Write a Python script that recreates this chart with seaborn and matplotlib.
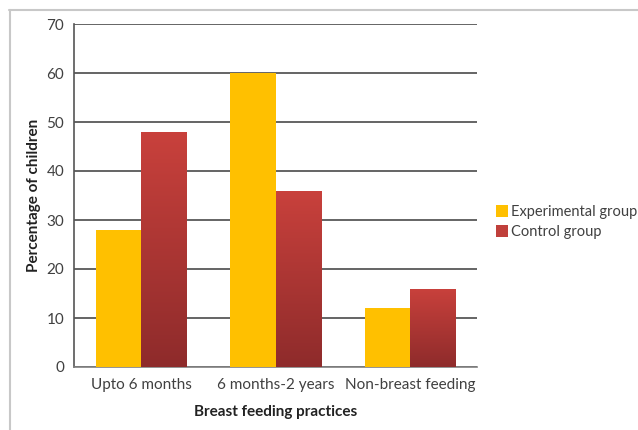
import numpy as np
import pandas as pd
import matplotlib
matplotlib.use('Agg')
import matplotlib.pyplot as plt
import seaborn as sns
from matplotlib.lines import Line2D
from matplotlib.patches import Patch

# data
practices = ['Upto 6 months', '6 months-2 years', 'Non-breast feeding']
experimental = [28, 60, 12]
control = [48, 36, 16]
groups = ['Experimental group', 'Control group']

df = pd.DataFrame({
    'practice': practices * 2,
    'group': [groups[0]] * 3 + [groups[1]] * 3,
    'value': experimental + control,
})

sns.set_style('white')
plt.rcParams['font.family'] = ['Lato', 'DejaVu Sans']

fig = plt.figure(figsize=(6.38, 4.30), dpi=100)
ax = fig.add_axes([74 / 638, 63 / 430, 403 / 638, 343 / 430])

palette = {groups[0]: '#FFC000', groups[1]: '#C0403B'}
sns.barplot(data=df, x='practice', y='value', hue='group', palette=palette,
            width=0.67, saturation=1, ax=ax, legend=False, zorder=3,
            edgecolor='none', linewidth=0)

# vertical gradient on the control bars
grad = np.linspace(0, 1, 256).reshape(-1, 1)
cmap = matplotlib.colors.LinearSegmentedColormap.from_list('red', ['#8E2B2B', '#C9413C'])
for bar in ax.containers[1]:
    x0, y0 = bar.get_x(), bar.get_y()
    w, h = bar.get_width(), bar.get_height()
    im = ax.imshow(grad, extent=[x0, x0 + w, y0, y0 + h], origin='lower',
                   cmap=cmap, aspect='auto', zorder=4)
    im.set_clip_path(bar)

ax.set_xlim(-0.5, 2.5)
ax.set_ylim(0, 70)
ax.set_yticks(range(0, 71, 10))
ax.yaxis.grid(True, color='#4a4a4a', linewidth=1.2, zorder=0)
ax.xaxis.grid(False)
ax.set_axisbelow(True)

for side in ['top', 'right']:
    ax.spines[side].set_visible(False)
ax.spines['left'].set_color('#555555')
ax.spines['left'].set_linewidth(1.2)
ax.spines['bottom'].set_color('#808080')
ax.spines['bottom'].set_linewidth(1.2)

ax.tick_params(axis='y', direction='out', length=6, width=1.2, color='#555555',
               labelsize=11, labelcolor='#404040', pad=1)
ax.tick_params(axis='x', length=0, labelsize=11, labelcolor='#404040', pad=8)

ax.set_xlabel('Breast feeding practices', fontsize=11, fontweight='bold',
              color='#222222', labelpad=9)
ax.set_ylabel('Percentage of children', fontsize=11, fontweight='bold',
              color='#222222', labelpad=4)

handles = [Patch(facecolor=palette[g], edgecolor='none') for g in groups]
fig.legend(handles, groups, loc='upper left', bbox_to_anchor=(492 / 638, 1 - 201 / 430),
           frameon=False, fontsize=10.5, handlelength=0.8, handleheight=0.9,
           handletextpad=0.2, labelspacing=0.35, labelcolor='#404040',
           borderaxespad=0, borderpad=0.3)

# light frame around the chart area
fig.add_artist(Line2D([9 / 638, 1], [1 - 9.5 / 430, 1 - 9.5 / 430],
                      transform=fig.transFigure, color='#c8c8c8', linewidth=1.5))
fig.add_artist(Line2D([9.5 / 638, 9.5 / 638], [0, 1 - 9.5 / 430],
                      transform=fig.transFigure, color='#c8c8c8', linewidth=1.5))

fig.savefig('out.png', dpi=100)
